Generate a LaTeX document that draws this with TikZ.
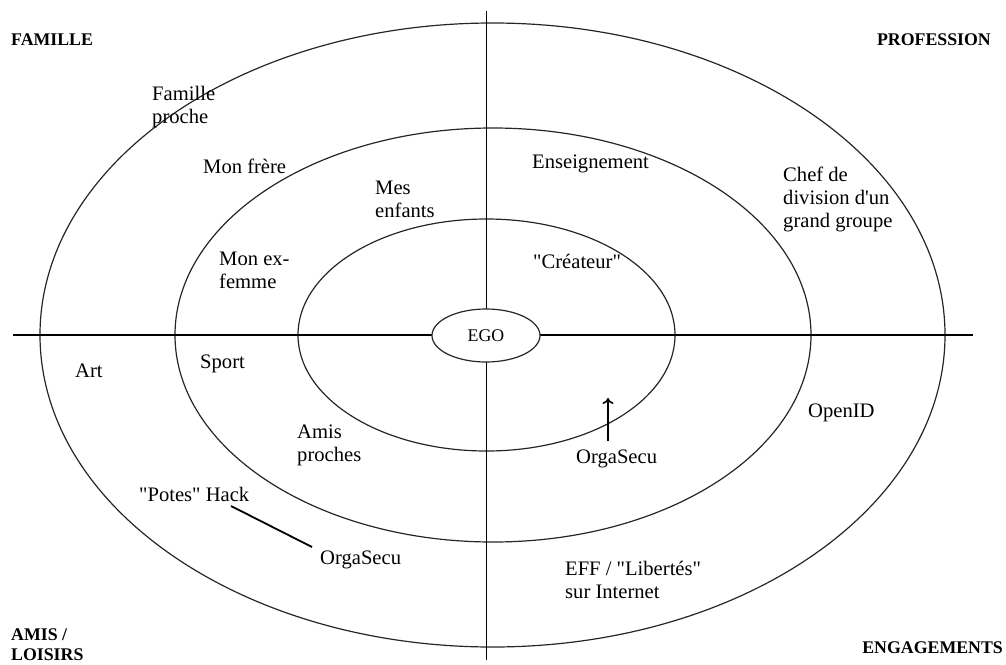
\documentclass[tikz,border=0pt]{standalone}
\usepackage{fontspec}
\setmainfont{Liberation Serif}[Ligatures=TeXOff]
\usetikzlibrary{shapes.geometric,arrows.meta}
\begin{document}
\begin{tikzpicture}[x=1pt,y=-1pt,
  ring/.style={draw=black!85,line width=1.2pt},
  axis/.style={draw=black,line width=1.8pt},
  lbl/.style={anchor=base west,inner sep=0pt,align=left,font=\fontsize{20.6}{22.7}\selectfont},
  head/.style={inner sep=0pt,align=left,font=\fontsize{17.8}{20}\selectfont\bfseries},
  link/.style={draw=black,line width=1.8pt}]
\useasboundingbox (0,0) rectangle (1006,664);
% rings
\draw[ring] (492.5,335) ellipse [x radius=452.5, y radius=312];
\draw[ring] (493,335) ellipse [x radius=318, y radius=207];
\draw[ring] (486.5,335) ellipse [x radius=188.5, y radius=116];
% axes
\coordinate (axL) at (13,335);
\coordinate (axR) at (973,335);
\coordinate (axT) at (486.5,11);
\coordinate (axB) at (486.5,660);
\draw[axis] (axL) -- (axR);
\draw[axis] (axT) -- (axB);
\node[ellipse,draw=black!85,line width=1.2pt,fill=white,minimum width=108pt,minimum height=53pt,inner sep=0pt,font=\fontsize{17.8}{20}\selectfont] (ego) at (486,335.5) {EGO};
% quadrant headings
\node[head,anchor=base west] (famille) at (11,45) {FAMILLE};
\node[head,anchor=base east] (profession) at (991,45) {PROFESSION};
\node[head,anchor=base west] (amis) at (11,660) {AMIS /\\LOISIRS};
\node[head,anchor=base east] (engagements) at (1003,653) {ENGAGEMENTS};
% labels (multi-line nodes: base = last line)
\node[lbl] (fproche) at (152,123) {Famille\\proche};
\node[lbl] (frere) at (203,173) {Mon frère};
\node[lbl] (enfants) at (375,217) {Mes\\enfants};
\node[lbl] (exfemme) at (219,288) {Mon ex-\\femme};
\node[lbl] (enseign) at (532,168) {Enseignement};
\node[lbl] (chef) at (783,227) {Chef de\\division d'un\\grand groupe};
\node[lbl] (createur) at (533,268) {"Créateur"};
\node[lbl] (art) at (75,377) {Art};
\node[lbl] (sport) at (200,368) {Sport};
\node[lbl] (amisp) at (297,461) {Amis\\proches};
\node[lbl] (potes) at (139,501) {"Potes" Hack};
\node[lbl] (orga1) at (320,564) {OrgaSecu};
\node[lbl] (orga2) at (576,463) {OrgaSecu};
\node[lbl] (openid) at (808,417) {OpenID};
\node[lbl] (eff) at (565,598) {EFF / "Libertés"\\sur Internet};
% connectors
\coordinate (p1) at (231,506);
\coordinate (p2) at (312,547);
\draw[link] (p1) -- (p2);
\coordinate (a1) at (608,441);
\coordinate (a2) at (608,398);
\draw[link,line width=1.6pt,-{To[length=6pt,width=11pt]}] (a1) -- (a2);
\end{tikzpicture}
\end{document}
